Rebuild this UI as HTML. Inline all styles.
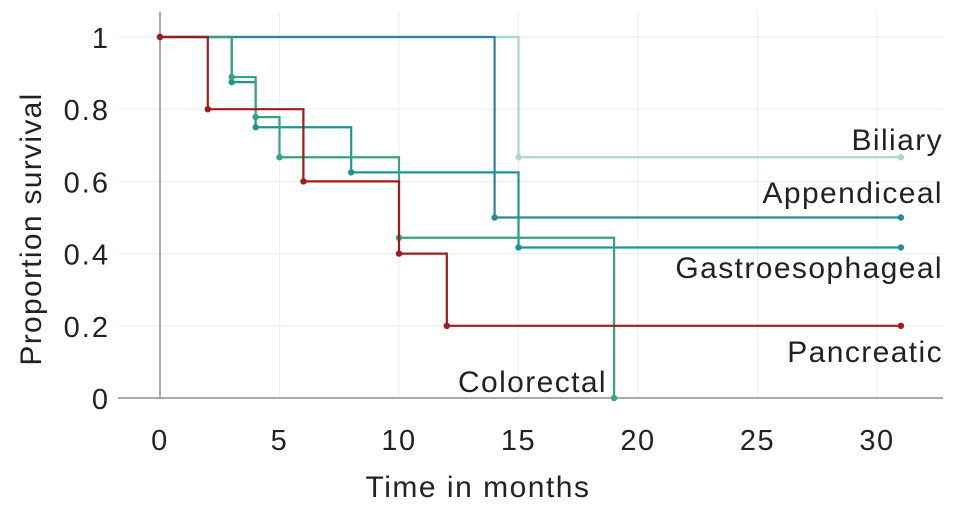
<!DOCTYPE html>
<html><head><meta charset="utf-8"><style>
body{margin:0;background:#fff}
svg{display:block;font-family:"Liberation Sans",sans-serif}
</style></head><body>
<svg id="chart" width="969" height="510">
<g id="grid"></g>
<g id="axes"></g>
<g id="series"></g>
<g id="labels"></g>
</svg>
<script>
const xTicks=[0,5,10,15,20,25,30];
const yTicks=[0,0.2,0.4,0.6,0.8,1];
const yTickLabels=["0","0.2","0.4","0.6","0.8","1"];
const seriesNames=["Biliary","Appendiceal","Gastroesophageal","Colorectal","Pancreatic"];
const biliaryT=[0,15,31], biliaryS=[1,0.667,0.667];
const appendicealT=[0,14,31], appendicealS=[1,0.5,0.5];
const gastroT=[0,3,4,8,15,31], gastroS=[1,0.875,0.75,0.625,0.417,0.417];
const colorectalT=[0,3,4,5,10,19], colorectalS=[1,0.889,0.778,0.667,0.444,0];
const pancreaticT=[0,2,6,10,12,31], pancreaticS=[1,0.8,0.6,0.4,0.2,0.2];
const colors={Biliary:"#a6d8ce",Appendiceal:"#2a8896",Gastroesophageal:"#1e9690",Colorectal:"#34a283",Pancreatic:"#9e1c1c"};
const sx=t=>160+t*23.9, sy=v=>398-v*361;
const NS="http://www.w3.org/2000/svg";
function mk(tag,attrs,parent){const e=document.createElementNS(NS,tag);for(const k in attrs)e.setAttribute(k,attrs[k]);parent.appendChild(e);return e;}
const grid=document.getElementById('grid'),axes=document.getElementById('axes'),ser=document.getElementById('series'),lab=document.getElementById('labels');
xTicks.forEach(t=>{
 const l=mk('line',{x1:sx(t),x2:sx(t),y1:12,y2:398,stroke:'#efefef','stroke-width':1.2},grid);
 
 
 const tx=mk('text',{x:sx(t),y:450,'text-anchor':'middle','font-size':29,'letter-spacing':1.5,fill:'#222'},axes);
 tx.textContent=t;
 
 
});
yTicks.forEach((v,i)=>{
 const l=mk('line',{x1:118,x2:943,y1:sy(v),y2:sy(v),stroke:'#efefef','stroke-width':1.2},grid);
 
 
 const tx=mk('text',{x:110,y:sy(v)+11,'text-anchor':'end','font-size':29,'letter-spacing':2,fill:'#222'},axes);
 tx.textContent=yTickLabels[i];
 
 
});
let a=mk('line',{x1:160,x2:160,y1:12,y2:398,stroke:'#aaa','stroke-width':2},axes);


a=mk('line',{x1:118,x2:943,y1:398,y2:398,stroke:'#aaa','stroke-width':2},axes);


let t=mk('text',{x:478,y:497,'text-anchor':'middle','font-size':30,'letter-spacing':1.5,fill:'#222'},axes);
t.textContent='Time in months';


t=mk('text',{x:0,y:0,'text-anchor':'middle','font-size':30,'letter-spacing':1.3,fill:'#222',transform:'translate(41,229) rotate(-90)'},axes);
t.textContent='Proportion survival';


const data={Biliary:[biliaryT,biliaryS],Appendiceal:[appendicealT,appendicealS],Gastroesophageal:[gastroT,gastroS],Colorectal:[colorectalT,colorectalS],Pancreatic:[pancreaticT,pancreaticS]};
seriesNames.forEach(n=>{
 const [T,S]=data[n];const c=colors[n];
 let d='M'+sx(T[0])+','+sy(S[0]);
 for(let i=1;i<T.length;i++){d+=' H'+sx(T[i])+' V'+sy(S[i]);}
 const p=mk('path',{d:d,fill:'none',stroke:c,'stroke-width':2.2},ser);
 
 
 for(let i=0;i<T.length;i++){
  const ci=mk('circle',{cx:sx(T[i]),cy:sy(S[i]),r:3.2,fill:c},ser);
  
  
 }
});
const lbls=[["Biliary",943,150],["Appendiceal",943,203],["Gastroesophageal",943,278],["Pancreatic",943,362],["Colorectal",607,392]];
lbls.forEach(([n,x,y])=>{
 const e=mk('text',{x:x,y:y,'text-anchor':'end','font-size':30,'letter-spacing':1.4,fill:'#222'},lab);
 e.textContent=n;
 
 
});
</script>
</body></html>
